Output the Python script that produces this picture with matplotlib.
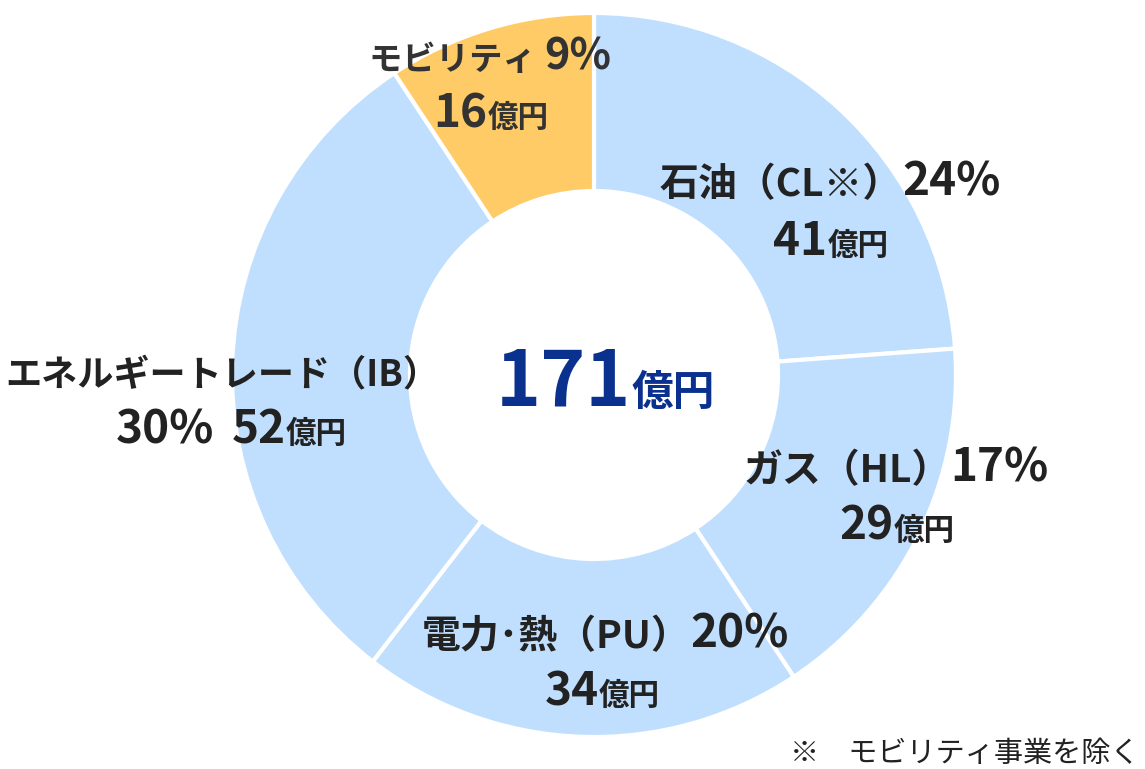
import matplotlib
matplotlib.use("Agg")
import matplotlib.pyplot as plt

plt.rcParams['font.family'] = ['Noto Sans CJK JP', 'DejaVu Sans']

# data
segments = ["石油（CL※）", "ガス（HL）", "電力･熱（PU）", "エネルギートレード（IB）", "モビリティ"]
amounts = [41, 29, 34, 52, 16]
shares = [24, 17, 20, 30, 9]
total = 171
colors = ["#C0DFFE", "#C0DFFE", "#C0DFFE", "#C0DFFE", "#FFCB66"]

W, H = 1145, 769
fig = plt.figure(figsize=(W / 100, H / 100), dpi=100)
ax = fig.add_axes([0, 0, 1, 1])

cx, cy = 594, H - 375
r_out, r_in = 362, 184
ax.pie(amounts, colors=colors, startangle=90, counterclock=False,
       center=(cx, cy), radius=r_out, frame=True,
       wedgeprops=dict(width=r_out - r_in, edgecolor="white", linewidth=3))
ax.set_xlim(0, W)
ax.set_ylim(0, H)
ax.axis("off")

renderer = fig.canvas.get_renderer()
DARK = "#222222"
BIG, MID, SMALL = 33, 28, 22


def runs(xc, ytop, parts, color=DARK):
    # parts: list of (text, fontsize); laid out left to right on one baseline, centred on xc
    objs = []
    for s, fs in parts:
        t = ax.text(0, H - ytop, s, fontsize=fs, fontweight="bold", color=color,
                    ha="left", va="baseline")
        objs.append(t)
    widths = [t.get_window_extent(renderer).width for t in objs]
    x = xc - sum(widths) / 2
    for t, w in zip(objs, widths):
        t.set_x(x)
        x += w


# labels
runs(490, 70, [("モビリティ ", 24), (f"{shares[4]}%", 31)], color="#333333")
runs(491, 127, [(str(amounts[4]), BIG), ("億円", SMALL)], color="#333333")

runs(830, 196, [(segments[0], MID), (f"{shares[0]}%", BIG)])
runs(831, 255, [(str(amounts[0]), BIG), ("億円", SMALL)])

runs(222, 385, [(segments[3], 26)])
runs(231, 443, [(f"{shares[3]}%", BIG), ("  ", MID), (str(amounts[3]), BIG), ("億円", SMALL)])

runs(896, 482, [(segments[1], MID), (f"{shares[1]}%", BIG)])
runs(897, 540, [(str(amounts[1]), BIG), ("億円", SMALL)])

runs(605, 648, [(segments[2], MID), (f"{shares[2]}%", BIG)])
runs(602, 705, [(str(amounts[2]), BIG), ("億円", SMALL)])

runs(605, 405, [(str(total), 55), ("億円", 30)], color="#0B318F")

ax.text(1140, H - 762, "※　モビリティ事業を除く", fontsize=21, color="#222222",
        ha="right", va="baseline")

fig.savefig("out.png", dpi=100)
